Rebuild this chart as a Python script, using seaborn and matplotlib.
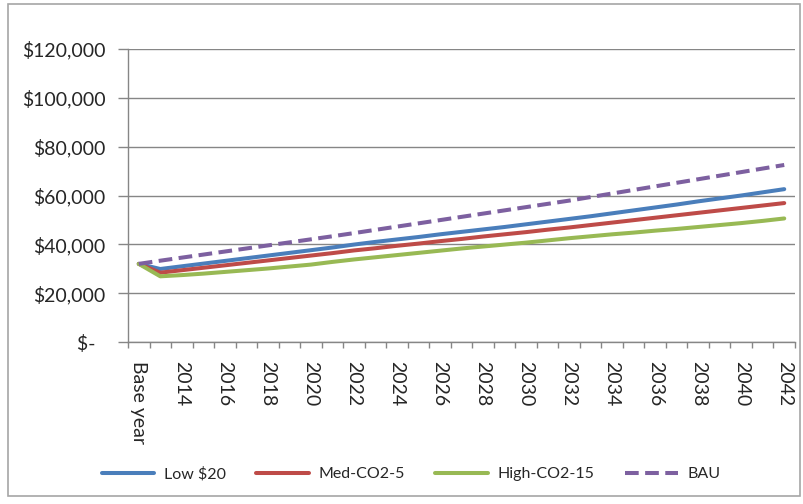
import matplotlib
matplotlib.use("Agg")
import matplotlib.pyplot as plt
from matplotlib.patches import Rectangle
from matplotlib.ticker import FixedLocator, FuncFormatter
import pandas as pd
import seaborn as sns

# Categories and series (annual cost, $)
years = ["Base year"] + [str(y) for y in range(2013, 2043)]
low_20 = [32000, 29900, 31000, 32100, 33200, 34300, 35400, 36500, 37600, 38700,
          39900, 41000, 42000, 43000, 44100, 45100, 46100, 47100, 48200, 49300,
          50400, 51500, 52700, 53900, 55100, 56300, 57600, 58800, 60000, 61300, 62600]
med_co2_5 = [32000, 28400, 29400, 30400, 31400, 32400, 33400, 34400, 35400, 36400,
             37500, 38400, 39400, 40300, 41300, 42200, 43200, 44100, 45000, 46000,
             46900, 47900, 48900, 49900, 50900, 51900, 52900, 53900, 54900, 55900, 56900]
high_co2_15 = [32000, 26900, 27400, 28000, 28700, 29400, 30100, 30900, 31700, 32800,
               33800, 34700, 35600, 36500, 37400, 38300, 39100, 39900, 40700, 41600,
               42500, 43300, 44100, 44800, 45600, 46300, 47100, 47900, 48700, 49600, 50600]
bau = [32000, 33300, 34550, 35800, 37050, 38300, 39550, 40800, 42050, 43300,
       44600, 45930, 47260, 48590, 49920, 51250, 52580, 53910, 55240, 56570,
       57900, 59360, 60820, 62280, 63740, 65200, 66660, 68120, 69580, 71040, 72500]

series_names = ["Low $20", "Med-CO2-5", "High-CO2-15", "BAU"]
series_values = [low_20, med_co2_5, high_co2_15, bau]
colors = ["#4A7EBB", "#BE4B48", "#98B954", "#7D60A0"]

rows = []
for name, vals in zip(series_names, series_values):
    for i, (yr, v) in enumerate(zip(years, vals)):
        rows.append({"pos": i, "year": yr, "value": v, "series": name})
df = pd.DataFrame(rows)

sns.set_theme(style="white")
plt.rcParams["font.family"] = ["Lato", "DejaVu Sans"]
plt.rcParams["axes.unicode_minus"] = False

W, H = 804, 504
fig = plt.figure(figsize=(W / 100, H / 100), dpi=100)
ax = fig.add_axes([128 / W, 1 - 342 / H, (795 - 128) / W, (342 - 49) / H])

sns.lineplot(
    data=df, x="pos", y="value", hue="series", style="series",
    hue_order=series_names, style_order=series_names,
    palette=dict(zip(series_names, colors)),
    dashes={"Low $20": "", "Med-CO2-5": "", "High-CO2-15": "", "BAU": (3.4, 1.6)},
    linewidth=2.9, ax=ax, legend=True, sort=False,
)

grid_c = "#868686"
ax.set_xlim(-0.5, len(years) - 0.5)
ax.set_ylim(0, 120000)
ax.set_xlabel("")
ax.set_ylabel("")

# y axis: accounting-style dollar labels
ax.yaxis.set_major_locator(FixedLocator(list(range(0, 120001, 20000))))
ax.yaxis.set_major_formatter(FuncFormatter(lambda v, p: "$-  " if v == 0 else f"${v:,.0f}"))
ax.grid(axis="y", color=grid_c, linewidth=1.0)
ax.tick_params(axis="y", which="major", length=7, width=1, color=grid_c,
               pad=9, labelsize=14, left=True)

# x axis: tick marks between categories, labels on every other year
ax.xaxis.set_major_locator(FixedLocator([i - 0.5 for i in range(len(years) + 1)]))
ax.xaxis.set_major_formatter(FuncFormatter(lambda v, p: ""))
ax.set_xticks(list(range(0, len(years), 2)), [years[i] for i in range(0, len(years), 2)],
              minor=True)
ax.tick_params(axis="x", which="major", length=4.5, width=1, color=grid_c, bottom=True)
ax.tick_params(axis="x", which="minor", length=0, pad=14, labelsize=14,
               labelrotation=-90)
for lbl in ax.get_xticklabels(minor=True):
    lbl.set_va("top")
    lbl.set_ha("center")

for side in ["top", "right"]:
    ax.spines[side].set_visible(False)
for side in ["left", "bottom"]:
    ax.spines[side].set_color(grid_c)
    ax.spines[side].set_linewidth(1.0)

# legend below the axis labels
handles, labels = ax.get_legend_handles_labels()
ax.get_legend().remove()
fig.legend(handles, labels, loc="center", bbox_to_anchor=(411 / W, 1 - 474 / H),
           ncol=4, frameon=False, fontsize=11.5, handlelength=3.3,
           handletextpad=0.6, columnspacing=1.9)

# chart border
fig.add_artist(Rectangle((8 / W, 1 - 496 / H), (800 - 8) / W, (496 - 4) / H,
                         transform=fig.transFigure, fill=False,
                         edgecolor="#A6A6A6", linewidth=1.2))

fig.savefig("out.png", dpi=100)
